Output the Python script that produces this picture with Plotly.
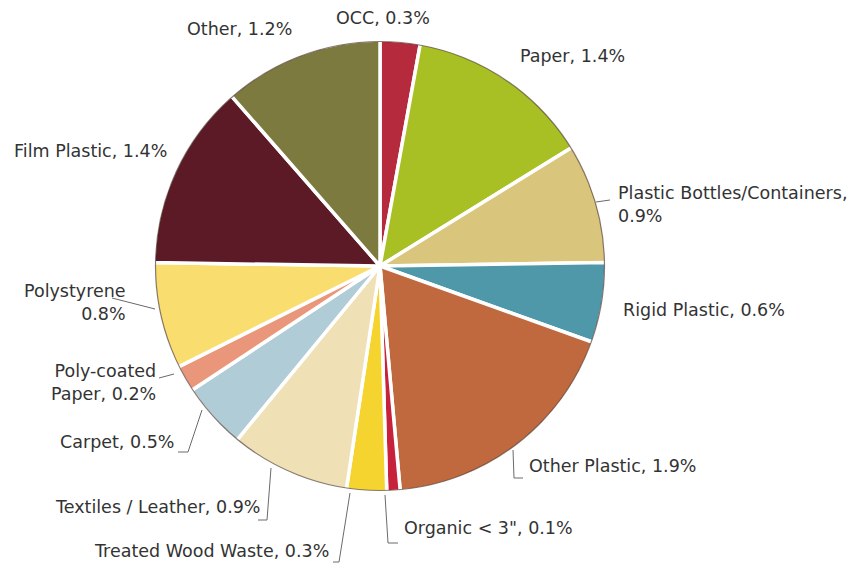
import plotly.graph_objects as go

# Composition of the sample (percent of total), clockwise from 12 o'clock
categories = [
    "OCC", "Paper", "Plastic Bottles/Containers", "Rigid Plastic",
    "Other Plastic", "Organic < 3\"", "Treated Wood Waste",
    "Textiles / Leather", "Carpet", "Poly-coated Paper", "Polystyrene",
    "Film Plastic", "Other",
]
values = [0.3, 1.4, 0.9, 0.6, 1.9, 0.1, 0.3, 0.9, 0.5, 0.2, 0.8, 1.4, 1.2]
colors = [
    "#B52A3C", "#A9C024", "#D9C57C", "#4F98A9",
    "#C0693F", "#C8213C", "#F6D42F",
    "#EFE0B6", "#B0CCD6", "#E9967B", "#F9DD6E",
    "#5C1A27", "#7D7A40",
]

W, H = 859, 567
CX, CY, R = 380, 266, 226


def px(x):
    return x / W


def py(y):
    return 1 - y / H


def label_text(i, sep=", "):
    return f"{categories[i]}{sep}{values[i]}%"


fig = go.Figure(
    go.Pie(
        labels=categories,
        values=values,
        sort=False,
        direction="clockwise",
        rotation=0,
        marker=dict(colors=colors, line=dict(color="white", width=3.5)),
        textinfo="none",
        hoverinfo="label+value",
        showlegend=False,
        domain=dict(x=[px(CX - R), px(CX + R)], y=[py(CY + R), py(CY - R)]),
    )
)

# Label placement: (text, x, y, xanchor) in pixels
idx = {c: i for i, c in enumerate(categories)}
labels = [
    (label_text(idx["OCC"]), 334, 18, "left"),
    (label_text(idx["Paper"]), 518, 56, "left"),
    (categories[2] + ",<br>" + f"{values[2]}%", 616, 205, "left"),
    (label_text(idx["Rigid Plastic"]), 621, 310, "left"),
    (label_text(idx["Other Plastic"]), 527, 466, "left"),
    (label_text(idx["Organic < 3\""]), 402, 528, "left"),
    (label_text(idx["Treated Wood Waste"]), 331, 551, "right"),
    (label_text(idx["Textiles / Leather"]), 262, 507, "right"),
    (label_text(idx["Carpet"]), 176, 442, "right"),
    ("Poly-coated<br>Paper, " + f"{values[9]}%", 158, 382, "right"),
    ("Polystyrene<br>" + f"{values[10]}%", 128, 302, "right"),
    (label_text(idx["Film Plastic"]), 12, 151, "left"),
    (label_text(idx["Other"]), 185, 29, "left"),
]

annotations = []
for text, x, y, xa in labels:
    annotations.append(
        dict(
            text=text, x=px(x), y=py(y), xref="paper", yref="paper",
            xanchor=xa, yanchor="middle", align=xa, showarrow=False,
            font=dict(family="'DejaVu Sans', sans-serif", size=17.5, color="#333333"),
        )
    )

# Leader lines (pixel polylines)
leaders = [
    [(596, 202), (610, 200)],
    [(513, 450), (514, 478), (523, 478)],
    [(385, 495), (388, 543), (398, 543)],
    [(350, 493), (339, 562), (333, 562)],
    [(271, 468), (267, 520), (258, 520)],
    [(202, 410), (188, 452), (178, 452)],
    [(159, 378), (174, 374)],
    [(112, 298), (155, 309)],
]
shapes = []
for pts in leaders:
    for (x0, y0), (x1, y1) in zip(pts[:-1], pts[1:]):
        shapes.append(
            dict(type="line", xref="paper", yref="paper",
                 x0=px(x0), y0=py(y0), x1=px(x1), y1=py(y1),
                 line=dict(color="#6a6a6a", width=1))
        )

# Thin dark rim around the pie
rr = R - 1.5
shapes.append(
    dict(type="circle", xref="paper", yref="paper", layer="above",
         x0=px(CX - rr), x1=px(CX + rr), y0=py(CY + rr), y1=py(CY - rr),
         line=dict(color="rgba(60,35,25,0.6)", width=1.2))
)

fig.update_layout(
    width=W, height=H,
    margin=dict(l=0, r=0, t=0, b=0),
    paper_bgcolor="white",
    plot_bgcolor="white",
    annotations=annotations,
    shapes=shapes,
)

fig.write_html("out.html")
